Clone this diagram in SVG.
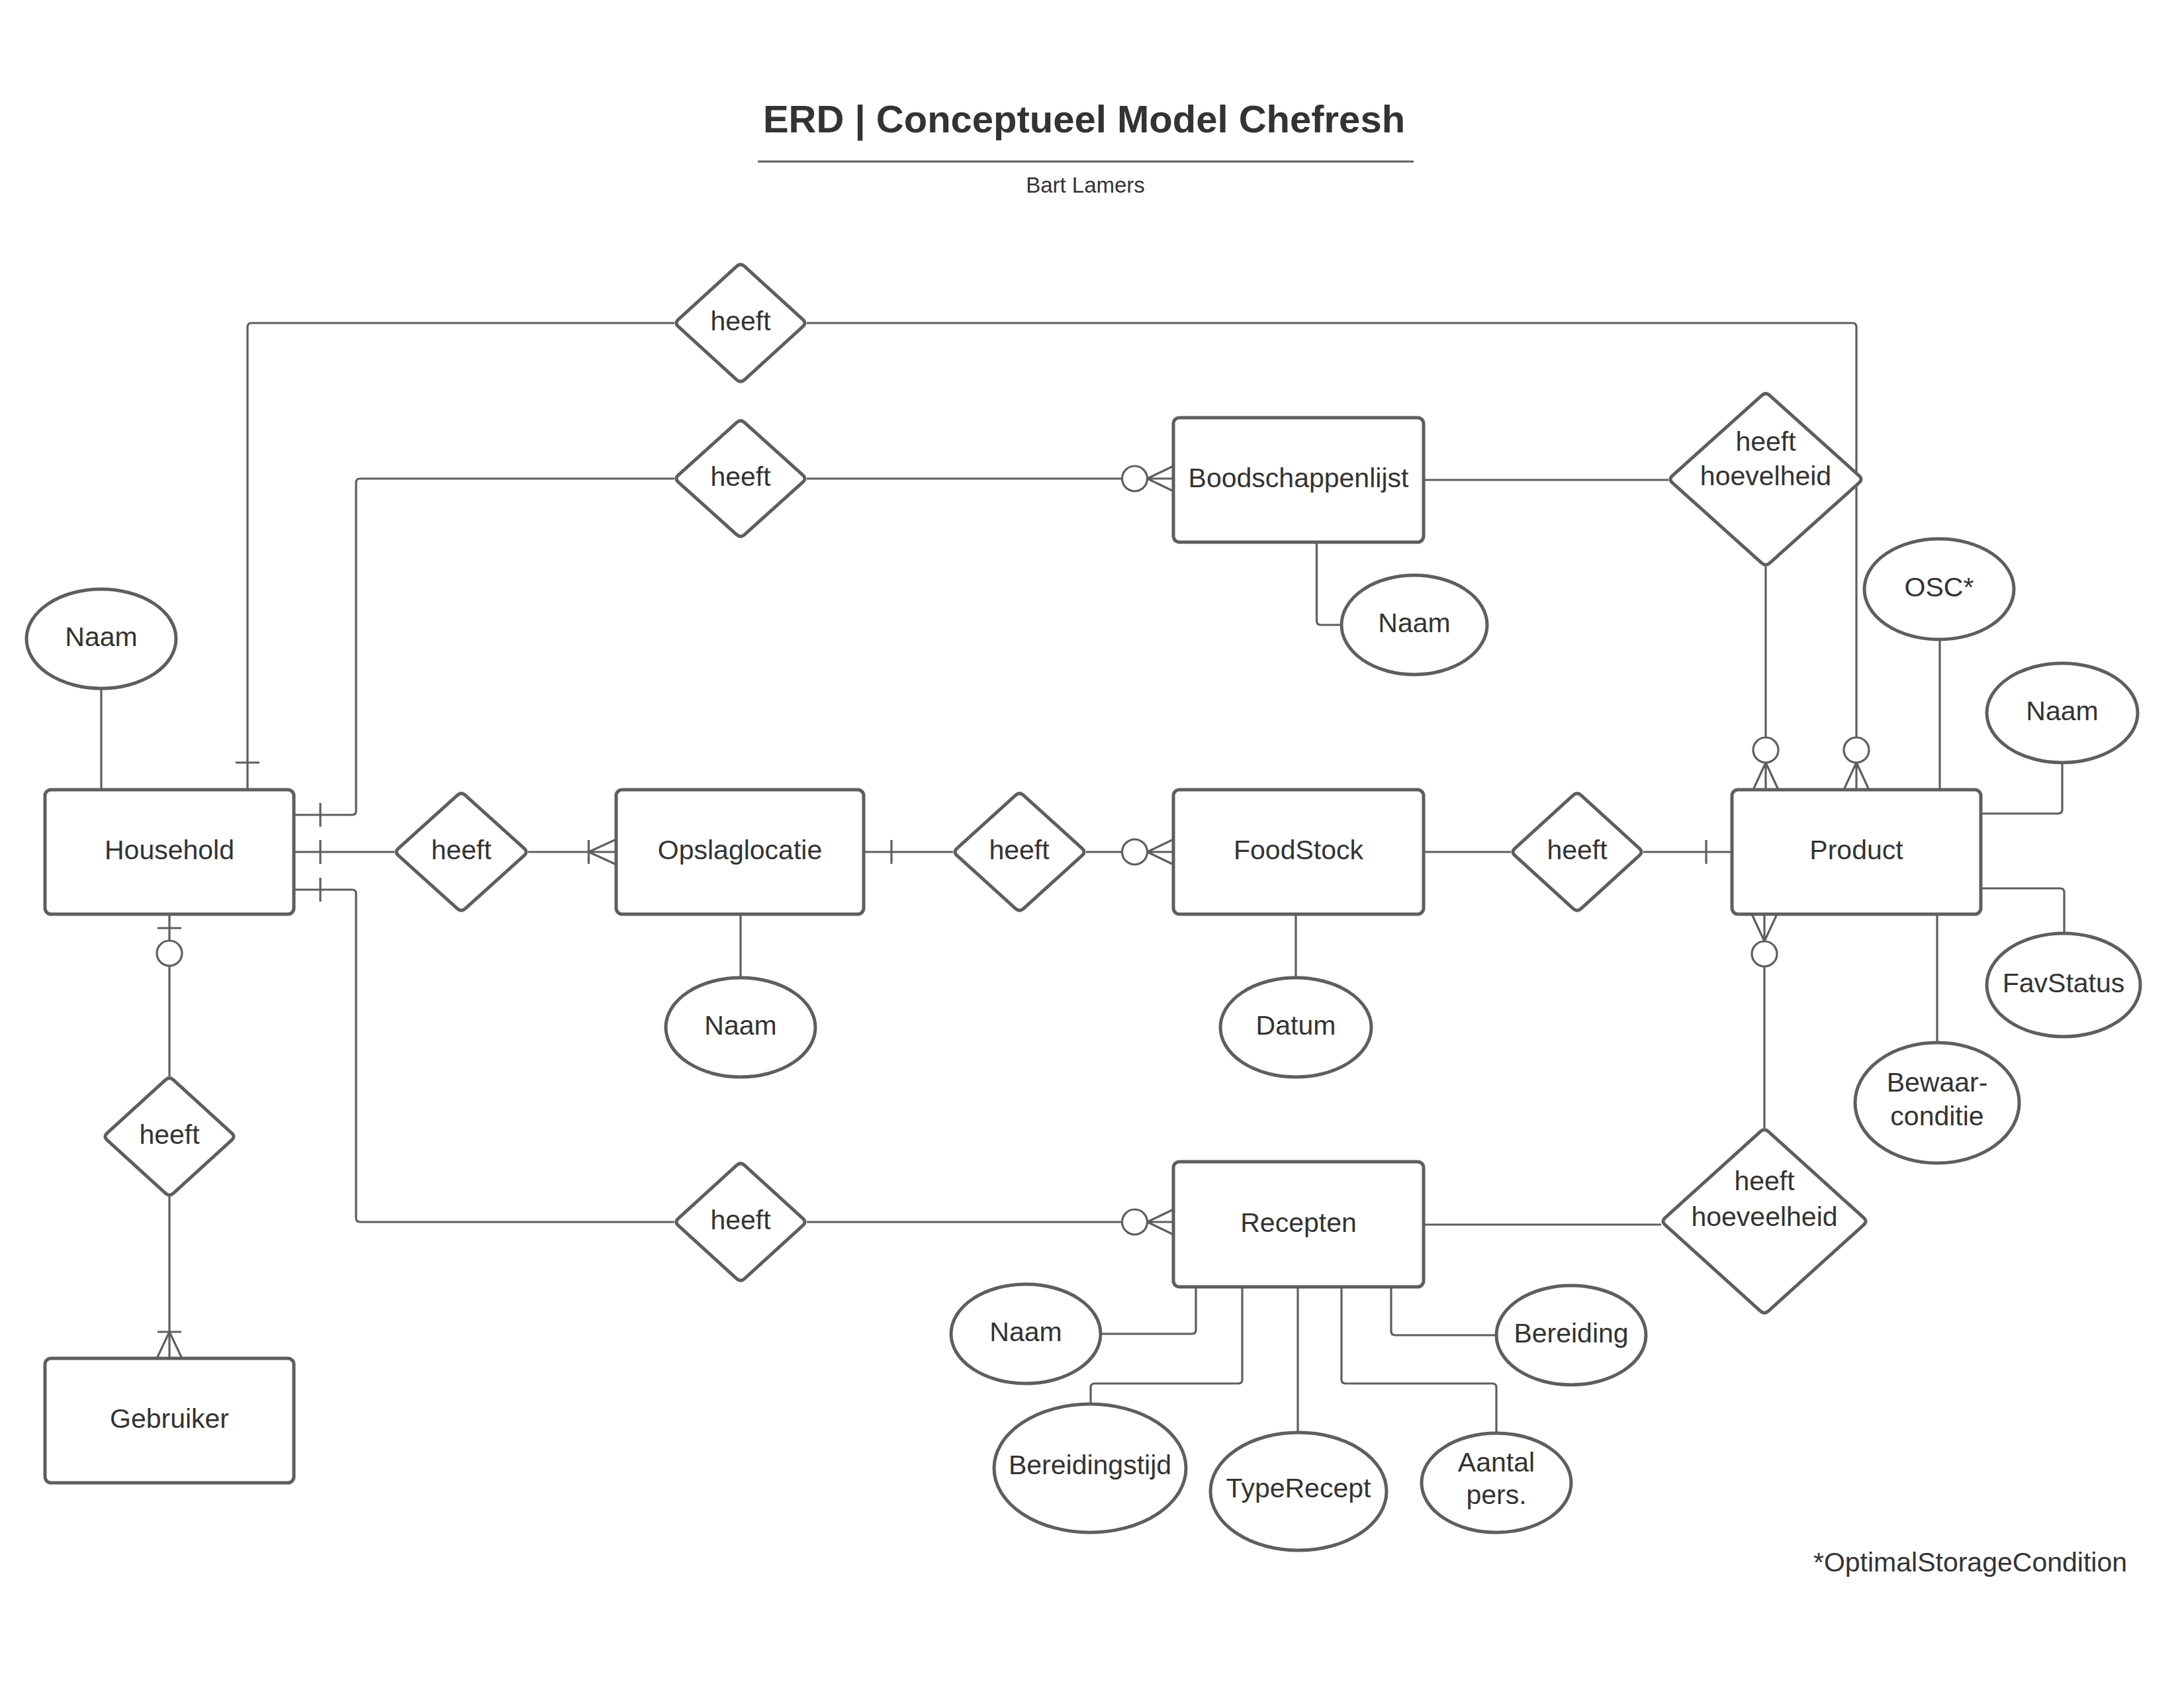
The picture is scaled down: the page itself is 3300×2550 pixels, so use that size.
<svg xmlns="http://www.w3.org/2000/svg" width="3300" height="2550" viewBox="0 0 3300 2550">
<style>
.bg{fill:#ffffff}
.ent{fill:#ffffff;stroke:#5e5e5e;stroke-width:5}
.rel{fill:#ffffff;stroke:#5e5e5e;stroke-width:5;stroke-linejoin:round}
.att{fill:#ffffff;stroke:#5e5e5e;stroke-width:5}
.con{fill:none;stroke:#5e5e5e;stroke-width:3.2}
.cir{fill:#ffffff;stroke:#5e5e5e;stroke-width:3.2}
text{font-family:"Liberation Sans",Arial,Helvetica,sans-serif;fill:#333333;font-size:41px;text-anchor:middle}
.title{font-size:58px;font-weight:bold}
.sub{font-size:33px}
.note{text-anchor:end}
</style>
<rect class="bg" x="0" y="0" width="3300" height="2550"/>

<g id="title">
<text class="title" x="1638" y="200">ERD | Conceptueel Model Chefresh</text>
<path d="M1145,244 H2136" stroke="#5e5e5e" stroke-width="3" fill="none"/>
<text class="sub" x="1640" y="291">Bart Lamers</text>
</g>

<g id="connectors">
<!-- Household top -> heeft (top) -> Product -->
<path class="con" d="M374,1193 V494 Q374,488 380,488 H1019"/>
<path class="con" d="M356,1152 H392"/>
<path class="con" d="M1219,488 H2799 Q2805,488 2805,494 V1114"/>
<circle class="cir" cx="2805" cy="1133" r="19"/>
<path class="con" d="M2805,1152 V1193 M2805,1152 L2786,1193 M2805,1152 L2824,1193"/>

<!-- Household -> heeft -> Boodschappenlijst -->
<path class="con" d="M444,1231 H532 Q538,1231 538,1225 V729 Q538,723 544,723 H1019"/>
<path class="con" d="M484,1213 V1249"/>
<path class="con" d="M1219,723 H1695.5"/>
<circle class="cir" cx="1714.5" cy="723" r="19"/>
<path class="con" d="M1733.5,723 H1773 M1733.5,723 L1773,704 M1733.5,723 L1773,742"/>

<!-- Boodschappenlijst -> heeft hoevelheid -> Product -->
<path class="con" d="M2151,725 H2521"/>
<path class="con" d="M2668,856 V1114"/>
<circle class="cir" cx="2668" cy="1133" r="19"/>
<path class="con" d="M2668,1152 V1193 M2668,1152 L2649,1193 M2668,1152 L2687,1193"/>

<!-- Household -> heeft -> Opslaglocatie -->
<path class="con" d="M444,1287 H596"/>
<path class="con" d="M484,1269 V1305"/>
<path class="con" d="M798,1287 H931"/>
<path class="con" d="M889.5,1269 V1305 M889.5,1287 L931,1268 M889.5,1287 L931,1306"/>

<!-- Opslaglocatie -> heeft -> FoodStock -->
<path class="con" d="M1305,1287 H1440"/>
<path class="con" d="M1347,1269 V1305"/>
<path class="con" d="M1641,1287 H1695.5"/>
<circle class="cir" cx="1714.5" cy="1287" r="19"/>
<path class="con" d="M1733.5,1287 H1773 M1733.5,1287 L1773,1268 M1733.5,1287 L1773,1306"/>

<!-- FoodStock -> heeft -> Product -->
<path class="con" d="M2151,1287 H2283"/>
<path class="con" d="M2483,1287 H2617"/>
<path class="con" d="M2578,1269 V1305"/>

<!-- Household -> heeft -> Recepten -->
<path class="con" d="M444,1344 H532 Q538,1344 538,1350 V1840 Q538,1846 544,1846 H1019"/>
<path class="con" d="M484,1326 V1362"/>
<path class="con" d="M1219,1846 H1695.5"/>
<circle class="cir" cx="1714.5" cy="1846" r="19"/>
<path class="con" d="M1733.5,1846 H1773 M1733.5,1846 L1773,1827 M1733.5,1846 L1773,1865"/>

<!-- Recepten -> heeft hoeveelheid -> Product -->
<path class="con" d="M2151,1850 H2510"/>
<path class="con" d="M2666,1704 V1460"/>
<circle class="cir" cx="2666" cy="1441" r="19"/>
<path class="con" d="M2666,1422 V1381 M2666,1422 L2647,1381 M2666,1422 L2685,1381"/>

<!-- Household -> heeft -> Gebruiker -->
<path class="con" d="M256,1381 V1421"/>
<path class="con" d="M238,1402 H274"/>
<circle class="cir" cx="256" cy="1440" r="19"/>
<path class="con" d="M256,1459 V1626"/>
<path class="con" d="M256,1808 V2052"/>
<path class="con" d="M238,2012 H274 M256,2012 L237,2052 M256,2012 L275,2052"/>

<!-- attribute lines -->
<path class="con" d="M153,1040 V1193"/>
<path class="con" d="M1989.5,819 V938 Q1989.5,944 1995.5,944 H2027"/>
<path class="con" d="M1119,1381 V1477"/>
<path class="con" d="M1958,1381 V1477"/>
<path class="con" d="M2931,966 V1193"/>
<path class="con" d="M3116,1152 V1223 Q3116,1229 3110,1229 H2993"/>
<path class="con" d="M2993,1342 H3113 Q3119,1342 3119,1348 V1410"/>
<path class="con" d="M2927,1381 V1575"/>
<path class="con" d="M1807,1944 V2009 Q1807,2015 1801,2015 H1663"/>
<path class="con" d="M1877,1944 V2084 Q1877,2090 1871,2090 H1654 Q1648,2090 1648,2096 V2121"/>
<path class="con" d="M1961,1944 V2164"/>
<path class="con" d="M2027,1944 V2084 Q2027,2090 2033,2090 H2255 Q2261,2090 2261,2096 V2165"/>
<path class="con" d="M2102,1944 V2011 Q2102,2017 2108,2017 H2261"/>
</g>

<!-- Entities -->
<g id="household"><rect class="ent" x="68" y="1193" width="376" height="188" rx="9"/><text x="256" y="1298">Household</text></g>
<g id="opslaglocatie"><rect class="ent" x="931" y="1193" width="374" height="188" rx="9"/><text x="1118" y="1298">Opslaglocatie</text></g>
<g id="foodstock"><rect class="ent" x="1773" y="1193" width="378" height="188" rx="9"/><text x="1962" y="1298">FoodStock</text></g>
<g id="product"><rect class="ent" x="2617" y="1193" width="376" height="188" rx="9"/><text x="2805" y="1298">Product</text></g>
<g id="boodschappenlijst"><rect class="ent" x="1773" y="631" width="378" height="188" rx="9"/><text x="1962" y="736">Boodschappenlijst</text></g>
<g id="recepten"><rect class="ent" x="1773" y="1755" width="378" height="189" rx="9"/><text x="1962" y="1861">Recepten</text></g>
<g id="gebruiker"><rect class="ent" x="68" y="2052" width="376" height="188" rx="9"/><text x="256" y="2157">Gebruiker</text></g>

<!-- Relationships -->
<g id="rel-top"><path class="rel" d="M1113,402.4 Q1119,397 1125,402.4 L1213,482.6 Q1219,488 1213,493.4 L1125,573.6 Q1119,579 1113,573.6 L1025,493.4 Q1019,488 1025,482.6 Z"/><text x="1119" y="499">heeft</text></g>
<g id="rel-boodschappen"><path class="rel" d="M1113,638.4 Q1119,633 1125,638.4 L1213,717.6 Q1219,723 1213,728.4 L1125,807.6 Q1119,813 1113,807.6 L1025,728.4 Q1019,723 1025,717.6 Z"/><text x="1119" y="734">heeft</text></g>
<g id="rel-opslag"><path class="rel" d="M691,1201.4 Q697,1196 703,1201.4 L792,1281.6 Q798,1287 792,1292.4 L703,1372.6 Q697,1378 691,1372.6 L602,1292.4 Q596,1287 602,1281.6 Z"/><text x="697" y="1298">heeft</text></g>
<g id="rel-foodstock"><path class="rel" d="M1534.5,1201.4 Q1540.5,1196 1546.5,1201.4 L1635,1281.6 Q1641,1287 1635,1292.4 L1546.5,1372.6 Q1540.5,1378 1534.5,1372.6 L1446,1292.4 Q1440,1287 1446,1281.6 Z"/><text x="1540" y="1298">heeft</text></g>
<g id="rel-product"><path class="rel" d="M2377,1201.4 Q2383,1196 2389,1201.4 L2477,1281.6 Q2483,1287 2477,1292.4 L2389,1372.6 Q2383,1378 2377,1372.6 L2289,1292.4 Q2283,1287 2289,1281.6 Z"/><text x="2383" y="1298">heeft</text></g>
<g id="rel-recepten"><path class="rel" d="M1113,1760.4 Q1119,1755 1125,1760.4 L1213,1840.6 Q1219,1846 1213,1851.4 L1125,1931.6 Q1119,1937 1113,1931.6 L1025,1851.4 Q1019,1846 1025,1840.6 Z"/><text x="1119" y="1857">heeft</text></g>
<g id="rel-gebruiker"><path class="rel" d="M250,1631.4 Q256,1626 262,1631.4 L350,1711.6 Q356,1717 350,1722.4 L262,1802.6 Q256,1808 250,1802.6 L162,1722.4 Q156,1717 162,1711.6 Z"/><text x="256" y="1728">heeft</text></g>
<g id="rel-hoevelheid"><path class="rel" d="M2662,597.4 Q2668,592 2674,597.4 L2809,718.6 Q2815,724 2809,729.4 L2674,850.6 Q2668,856 2662,850.6 L2527,729.4 Q2521,724 2527,718.6 Z"/><text x="2668" y="681">heeft</text><text x="2668" y="733">hoevelheid</text></g>
<g id="rel-hoeveelheid"><path class="rel" d="M2660,1709.4 Q2666,1704 2672,1709.4 L2816,1839.6 Q2822,1845 2816,1850.4 L2672,1980.6 Q2666,1986 2660,1980.6 L2516,1850.4 Q2510,1845 2516,1839.6 Z"/><text x="2666" y="1798">heeft</text><text x="2666" y="1852">hoeveelheid</text></g>

<!-- Attributes -->
<g id="att-household-naam"><ellipse class="att" cx="153" cy="965" rx="113" ry="75"/><text x="153" y="976">Naam</text></g>
<g id="att-boodschappen-naam"><ellipse class="att" cx="2137" cy="944" rx="110" ry="75"/><text x="2137" y="955">Naam</text></g>
<g id="att-opslag-naam"><ellipse class="att" cx="1119" cy="1552" rx="113" ry="75"/><text x="1119" y="1563">Naam</text></g>
<g id="att-datum"><ellipse class="att" cx="1958" cy="1552" rx="114" ry="75"/><text x="1958" y="1563">Datum</text></g>
<g id="att-osc"><ellipse class="att" cx="2930" cy="890" rx="113" ry="76"/><text x="2930" y="901">OSC*</text></g>
<g id="att-product-naam"><ellipse class="att" cx="3116" cy="1077" rx="114" ry="75"/><text x="3116" y="1088">Naam</text></g>
<g id="att-favstatus"><ellipse class="att" cx="3118" cy="1488" rx="116" ry="78"/><text x="3118" y="1499">FavStatus</text></g>
<g id="att-bewaarconditie"><ellipse class="att" cx="2927" cy="1666" rx="124" ry="91"/><text x="2927" y="1649">Bewaar-</text><text x="2927" y="1700">conditie</text></g>
<g id="att-recepten-naam"><ellipse class="att" cx="1550" cy="2015" rx="113" ry="75"/><text x="1550" y="2026">Naam</text></g>
<g id="att-bereidingstijd"><ellipse class="att" cx="1647" cy="2218" rx="145" ry="97"/><text x="1647" y="2227">Bereidingstijd</text></g>
<g id="att-typerecept"><ellipse class="att" cx="1962" cy="2253" rx="133" ry="89"/><text x="1962" y="2262">TypeRecept</text></g>
<g id="att-aantalpers"><ellipse class="att" cx="2261" cy="2240" rx="113" ry="75"/><text x="2261" y="2223">Aantal</text><text x="2261" y="2272">pers.</text></g>
<g id="att-bereiding"><ellipse class="att" cx="2374" cy="2017" rx="113" ry="75"/><text x="2374" y="2028">Bereiding</text></g>

<g id="footnote"><text class="note" x="3214" y="2374">*OptimalStorageCondition</text></g>
</svg>
